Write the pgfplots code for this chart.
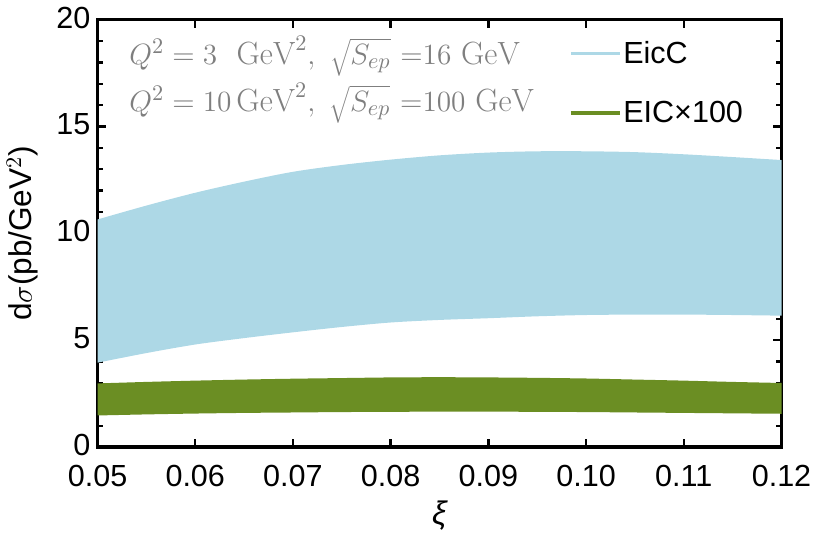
\documentclass[border=0pt]{standalone}
\usepackage{fontspec}
\usepackage{pgfplots}
\pgfplotsset{compat=1.18}
\usepgfplotslibrary{fillbetween}
\newfontfamily\arial{Liberation Sans}
\definecolor{eicc}{HTML}{ADD8E6}
\definecolor{eic}{HTML}{6B8E23}
\definecolor{notegray}{HTML}{7F7F7F}

\begin{document}
\begin{tikzpicture}
\begin{axis}[
  scale only axis,
  width=336pt, height=210pt,
  xmin=0.05, xmax=0.12, ymin=0, ymax=20,
  xtick={0.05,0.06,...,0.12},
  ytick={0,5,10,15,20},
  minor y tick num=4,
  tick align=inside,
  major tick length=4pt,
  minor tick length=2.5pt,
  every tick/.style={black, line width=1.2pt},
  axis line style={line width=1.6pt},
  /pgf/number format/assume math mode=true,
  ticklabel style={font=\arial\fontsize{15}{18}\selectfont},
  xticklabel style={yshift=-5.5pt, /pgf/number format/.cd, fixed, fixed zerofill, precision=2},
  yticklabel style={yshift=1pt, /pgf/number format/.cd, fixed, precision=0},
  scaled x ticks=false,
  xlabel={\arial\itshape ξ},
  xlabel style={font=\fontsize{16}{18}\selectfont, yshift=0pt},
  ylabel={\arial d$\sigma$(pb/GeV$^2$)},
  ylabel style={font=\fontsize{15.5}{18}\selectfont, yshift=2pt},
  legend style={at={(rel axis cs:0.68,0.97)}, anchor=north west, draw=none, fill=none,
    font=\arial\fontsize{15}{18}\selectfont, row sep=13pt,
    nodes={inner xsep=1pt},
    /tikz/every even column/.append style={column sep=2pt}},
  legend cell align=left,
  legend image code/.code={\draw[line width=1.6pt] (0pt,0pt) -- (24pt,0pt);},
]
% EicC band (upper and lower edges)
\addplot[name path=cu, draw=none, smooth, forget plot] coordinates {
  (0.050,10.65) (0.055,11.30) (0.060,11.90) (0.065,12.42) (0.070,12.88)
  (0.075,13.20) (0.080,13.45) (0.085,13.65) (0.090,13.78) (0.095,13.84)
  (0.100,13.84) (0.105,13.80) (0.110,13.70) (0.115,13.57) (0.120,13.43)};
\addplot[name path=cl, draw=none, smooth, forget plot] coordinates {
  (0.050,3.95) (0.055,4.40) (0.060,4.80) (0.065,5.10) (0.070,5.37)
  (0.075,5.62) (0.080,5.83) (0.085,5.95) (0.090,6.03) (0.095,6.12)
  (0.100,6.18) (0.105,6.20) (0.110,6.20) (0.115,6.18) (0.120,6.15)};
\addplot[eicc, forget plot] fill between[of=cu and cl];
% EIC band, scaled by 100
\addplot[name path=eu, draw=none, smooth, forget plot] coordinates {
  (0.050,2.98) (0.055,3.05) (0.060,3.11) (0.065,3.16) (0.070,3.20)
  (0.075,3.23) (0.080,3.26) (0.085,3.27) (0.090,3.26) (0.095,3.24)
  (0.100,3.21) (0.105,3.16) (0.110,3.11) (0.115,3.05) (0.120,3.00)};
\addplot[name path=el, draw=none, smooth, forget plot] coordinates {
  (0.050,1.48) (0.055,1.53) (0.060,1.57) (0.065,1.60) (0.070,1.62)
  (0.075,1.64) (0.080,1.65) (0.085,1.66) (0.090,1.66) (0.095,1.65)
  (0.100,1.64) (0.105,1.62) (0.110,1.60) (0.115,1.58) (0.120,1.56)};
\addplot[eic, forget plot] fill between[of=eu and el];
\addlegendimage{eicc}
\addlegendentry{EicC}
\addlegendimage{eic}
\addlegendentry{EIC×100}
\node[anchor=west, text=notegray, font=\fontsize{15.8}{18}\selectfont] at (rel axis cs:0.036,0.915)
  {$Q^2=3~~\mathrm{GeV}^2,\ \sqrt{S_{ep}}\ {=}16~\mathrm{GeV}$};
\node[anchor=west, text=notegray, font=\fontsize{15.8}{18}\selectfont] at (rel axis cs:0.036,0.805)
  {$Q^2=10\,\mathrm{GeV}^2,\ \sqrt{S_{ep}}\ {=}100~\mathrm{GeV}$};
\end{axis}
\end{tikzpicture}
\end{document}
